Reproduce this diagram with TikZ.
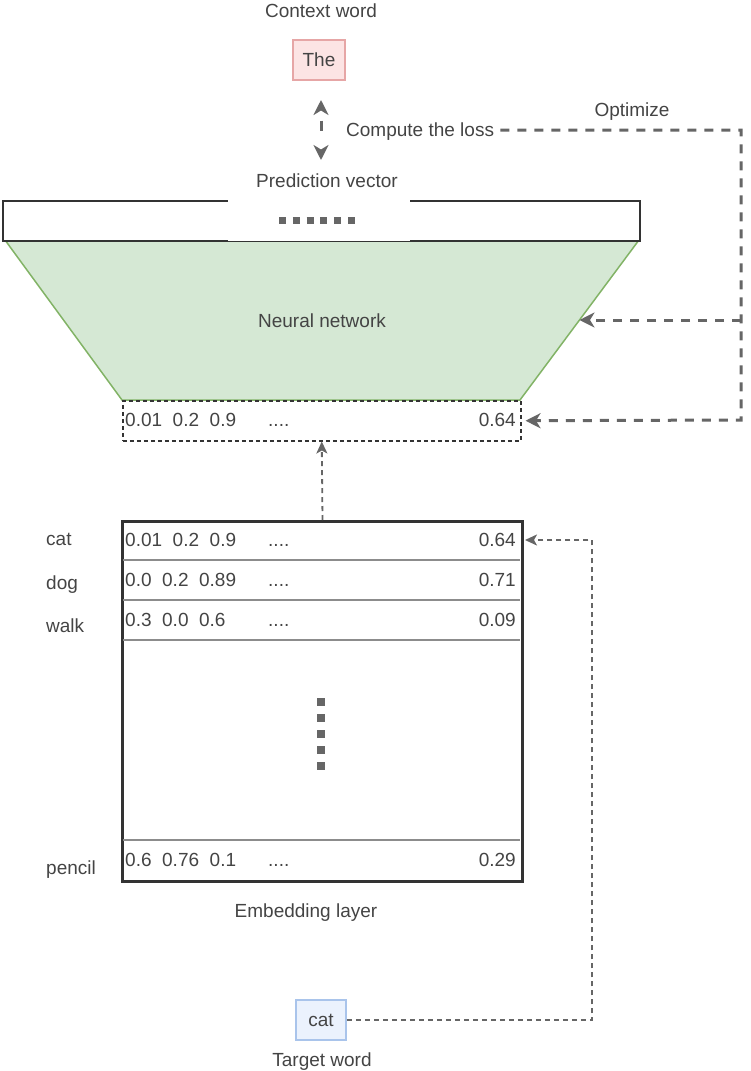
\documentclass[tikz,border=0pt]{standalone}
\usepackage{fontspec}
\setmainfont{Liberation Sans}
\usetikzlibrary{arrows.meta}
\definecolor{txt}{HTML}{444444}
\definecolor{dgray}{HTML}{666666}
\definecolor{edgec}{HTML}{333333}
\definecolor{divc}{HTML}{8C8C8C}
\definecolor{nnfill}{HTML}{D5E8D4}
\definecolor{nnline}{HTML}{82B366}
\definecolor{redf}{HTML}{FCE4E4}
\definecolor{redl}{HTML}{E6A6A6}
\definecolor{bluef}{HTML}{EBF2FD}
\definecolor{bluel}{HTML}{A9C4EB}
\begin{document}
\begin{tikzpicture}[x=1pt,y=-1pt,
  lbl/.style={font=\fontsize{19}{23}\selectfont, text=txt, inner sep=0pt, text height=13.6pt, text depth=0pt},
  optline/.style={draw=dgray, line width=3pt, dash pattern=on 9pt off 8pt},
  optarrow/.style={optline, -{Stealth[length=15pt,width=15pt,inset=4.5pt]}},
  thinline/.style={draw=dgray, line width=1.8pt, dash pattern=on 5pt off 4pt},
  thinarrow/.style={thinline, -{Stealth[length=12pt,width=11pt,inset=3pt]}},
  dotline/.style={draw=dgray},
  divider/.style={draw=divc, line width=2pt},
]
\useasboundingbox (0,0) rectangle (751,1071);

% Context word
\node[lbl] (ctxlbl) at (321,11) {Context word};
\node[lbl, draw=redl, fill=redf, line width=1.5pt, minimum width=52pt, minimum height=40pt] (the) at (319,60) {The};

% neural network trapezoid
\coordinate (nntl) at (5,240);
\coordinate (nntr) at (639,240);
\coordinate (nnbr) at (520,400);
\coordinate (nnbl) at (122,400);
\coordinate (nnr) at (579.5,320);
\filldraw[fill=nnfill, draw=nnline, line width=1.5pt] (nntl) -- (nntr) -- (nnbr) -- (nnbl) -- cycle;
\node[lbl] (nnlbl) at (322,321) {Neural network};

% prediction vector bar
\node[draw=edgec, line width=1.5pt, fill=white, minimum width=637pt, minimum height=40pt, inner sep=0pt, anchor=north west] (bar) at (2,200) {};
\node[fill=white, minimum width=182pt, minimum height=73pt, inner sep=0pt, anchor=north west] (pvbg) at (228,168) {};
\node[lbl] (pvlbl) at (327,181) {Prediction vector};
\draw[dotline, line width=7pt, dash pattern=on 7pt off 6.8pt] (279,220) -- (355,220);

% loss arrow
\coordinate (ltop) at (321,100);
\coordinate (lbot) at (321,160);
\draw[draw=dgray, line width=3pt, dash pattern=on 0pt off 11pt on 10pt off 50pt,
  {Stealth[length=15pt,width=15pt,inset=4.5pt]}-{Stealth[length=15pt,width=15pt,inset=4.5pt]}] (ltop) -- (lbot);
\node[lbl, anchor=west] (loss) at (346,130) {Compute the loss};
\node[lbl] (optlbl) at (632,110) {Optimize};

% dashed vector box
\node[draw=edgec, line width=1.5pt, dash pattern=on 4pt off 3pt, minimum width=398pt, minimum height=40pt, inner sep=0pt, anchor=north west] (vec) at (122,400) {};
\node[lbl, anchor=west] (v1) at (125,420) {0.01~~0.2~~0.9};
\node[lbl, anchor=west] (v2) at (268,420) {....};
\node[lbl, anchor=east] (v3) at (516,420) {0.64};

% optimize connectors
\coordinate (optb) at (741,320);
\coordinate (optc) at (741,420);
\draw[optarrow] ([xshift=6pt]loss.east) -| (optc) -- ([xshift=4pt]vec.east);
\draw[optarrow] (optb) -- (nnr);

% embedding layer
\node[draw=edgec, line width=3pt, minimum width=400pt, minimum height=360pt, inner sep=0pt, anchor=north west] (emb) at (121,520) {};
\draw[divider] (122.5,560) -- (519.5,560);
\draw[divider] (122.5,600) -- (519.5,600);
\draw[divider] (122.5,640) -- (519.5,640);
\draw[divider] (122.5,840) -- (519.5,840);

\node[lbl, anchor=west] (r1a) at (125,540) {0.01~~0.2~~0.9};
\node[lbl, anchor=west] (r1b) at (268,540) {....};
\node[lbl, anchor=east] (r1c) at (516,540) {0.64};
\node[lbl, anchor=west] (r2a) at (125,580) {0.0~~0.2~~0.89};
\node[lbl, anchor=west] (r2b) at (268,580) {....};
\node[lbl, anchor=east] (r2c) at (516,580) {0.71};
\node[lbl, anchor=west] (r3a) at (125,620) {0.3~~0.0~~0.6};
\node[lbl, anchor=west] (r3b) at (268,620) {....};
\node[lbl, anchor=east] (r3c) at (516,620) {0.09};
\node[lbl, anchor=west] (r4a) at (125,860) {0.6~~0.76~~0.1};
\node[lbl, anchor=west] (r4b) at (268,860) {....};
\node[lbl, anchor=east] (r4c) at (516,860) {0.29};

\draw[dotline, line width=8pt, dash pattern=on 8pt off 8pt] (321,698) -- (321,770);

\node[lbl, anchor=west] (wcat) at (46,539) {cat};
\node[lbl, anchor=west] (wdog) at (46,583) {dog};
\node[lbl, anchor=west] (wwalk) at (46,626) {walk};
\node[lbl, anchor=west] (wpencil) at (46,868) {pencil};

\node[lbl] (emblbl) at (306,911) {Embedding layer};

\draw[thinarrow] (emb.north) -- (vec.south);

% target word
\node[lbl, draw=bluel, fill=bluef, line width=1.5pt, minimum width=50pt, minimum height=40pt] (catbox) at (321,1020) {cat};
\node[lbl] (tgtlbl) at (322,1060) {Target word};
\coordinate (tcorner) at (592,540);
\coordinate (ttip) at (525,540);
\draw[thinarrow] (catbox.east) -| (tcorner) -- (ttip);
\end{tikzpicture}
\end{document}
